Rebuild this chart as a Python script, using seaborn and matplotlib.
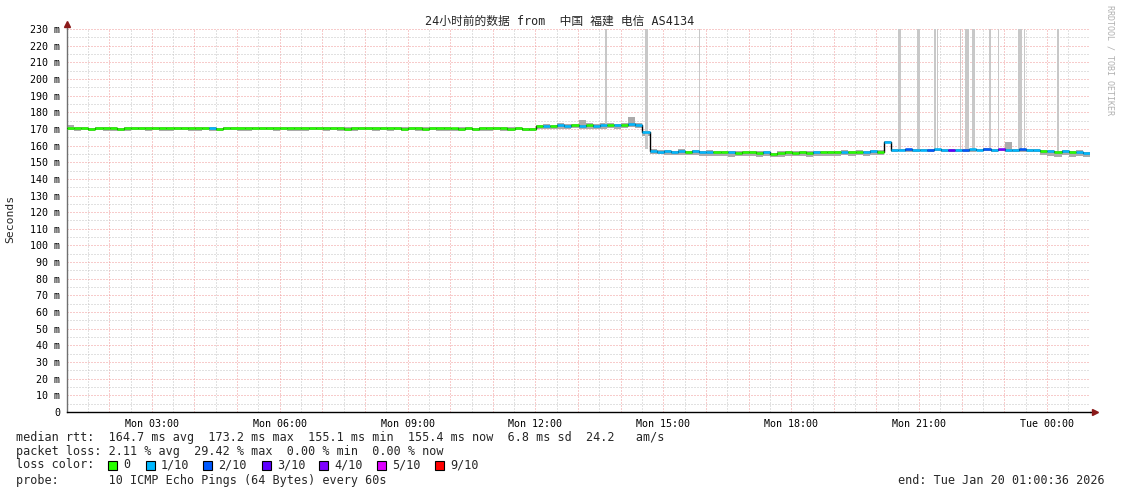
import numpy as np
import pandas as pd
import matplotlib
matplotlib.use("Agg")
import matplotlib.pyplot as plt
import seaborn as sns
from matplotlib.patches import Rectangle
from matplotlib.ticker import MultipleLocator, FuncFormatter

# ---------------- data ----------------
TITLE = "24小时前的数据 from  中国 福建 电信 AS4134"
START_H = 1 + 36 / 3600.0      # Mon 01:00:36 (hours since Mon 00:00)
STEP_MIN = 10                  # one sample every 10 minutes

MEDIAN = [
    170.5, 170.3, 170.4, 170.2, 170.6, 170.3,   # 01
    170.4, 170.2, 170.5, 170.6, 170.3, 170.4,   # 02
    170.6, 170.4, 170.3, 170.5, 170.7, 170.4,   # 03
    170.3, 170.5, 170.4, 170.2, 170.4, 170.6,   # 04
    170.5, 170.3, 170.4, 170.6, 170.3, 170.4,   # 05
    170.4, 170.5, 170.3, 170.4, 170.6, 170.5,   # 06
    170.3, 170.4, 170.5, 170.2, 170.4, 170.3,   # 07
    170.5, 170.6, 170.4, 170.3, 170.5, 170.2,   # 08
    170.4, 170.3, 170.2, 170.5, 170.3, 170.4,   # 09
    170.3, 170.2, 170.4, 170.1, 170.3, 170.5,   # 10
    170.6, 170.4, 170.2, 170.5, 170.1, 170.0,   # 11
    171.6, 172.0, 171.7, 172.1, 171.8, 172.2,   # 12
    172.0, 172.3, 171.9, 172.2, 172.4, 172.1,   # 13
    172.3, 173.2, 172.6, 168.0, 156.9, 156.4,   # 14
    156.6, 156.3, 156.7, 156.2, 156.5, 156.1,   # 15
    156.4, 155.9, 156.2, 156.0, 155.8, 156.1,   # 16
    155.9, 155.7, 156.0, 155.1, 155.6, 155.9,   # 17
    155.8, 156.0, 155.7, 156.1, 155.9, 156.2,   # 18
    156.0, 156.3, 156.1, 156.4, 156.2, 156.5,   # 19
    156.3, 162.0, 157.6, 157.5, 157.7, 157.4,   # 20
    157.6, 157.5, 157.7, 157.6, 157.4, 157.6,   # 21
    157.5, 157.7, 157.6, 157.8, 157.5, 157.7,   # 22
    157.6, 157.5, 157.7, 157.4, 157.6, 156.8,   # 23
    156.5, 156.2, 156.6, 156.1, 156.4, 155.4,   # 00
]

LOSS = [
    0, 0, 0, 0, 0, 0,
    0, 0, 0, 0, 0, 0,
    0, 0, 0, 0, 0, 0,
    0, 0, 1, 0, 0, 0,
    0, 0, 0, 0, 0, 0,
    0, 0, 0, 0, 0, 0,
    0, 0, 0, 0, 0, 0,
    0, 0, 0, 0, 0, 0,
    0, 0, 0, 0, 0, 0,
    0, 0, 0, 0, 0, 0,
    0, 0, 0, 0, 0, 0,
    0, 1, 0, 1, 1, 0,
    1, 0, 1, 1, 0, 1,
    0, 1, 1, 1, 1, 1,
    1, 1, 1, 0, 1, 1,
    1, 0, 0, 1, 0, 0,
    0, 0, 1, 0, 0, 0,
    0, 0, 0, 1, 0, 0,
    0, 1, 0, 0, 1, 1,
    0, 1, 1, 1, 2, 1,
    1, 2, 1, 1, 3, 1,
    2, 1, 1, 2, 1, 4,
    1, 1, 2, 1, 1, 0,
    1, 0, 1, 0, 1, 1,
]

SMOKE_DN = [
    1.4, 1.6, 1.2, 1.5, 1.3, 1.7,
    1.5, 1.3, 1.6, 1.4, 1.2, 1.5,
    1.3, 1.6, 1.4, 1.2, 1.5, 1.6,
    1.4, 1.2, 1.5, 1.7, 1.3, 1.4,
    1.6, 1.4, 1.3, 1.5, 1.2, 1.6,
    1.3, 1.5, 1.4, 1.6, 1.2, 1.4,
    1.5, 1.3, 1.6, 1.4, 1.5, 1.2,
    1.4, 1.6, 1.3, 1.5, 1.4, 1.3,
    1.2, 1.5, 1.4, 1.3, 1.6, 1.4,
    1.5, 1.3, 1.2, 1.6, 1.4, 1.5,
    1.3, 1.4, 1.6, 1.2, 1.5, 1.4,
    1.6, 2.0, 1.8, 2.2, 1.7, 1.9,
    1.8, 2.1, 1.7, 2.0, 1.9, 2.2,
    2.0, 2.2, 1.8, 2.5, 1.8, 1.6,
    2.2, 1.9, 2.4, 2.0, 2.3, 2.1,
    2.4, 2.0, 2.2, 2.6, 2.1, 2.3,
    2.2, 2.5, 2.0, 1.8, 2.3, 2.4,
    2.1, 2.3, 2.6, 2.2, 2.0, 2.4,
    2.3, 2.1, 2.4, 2.2, 2.5, 2.0,
    2.2, 0.6, 1.2, 1.0, 1.3, 1.1,
    1.0, 1.2, 1.1, 1.3, 1.0, 1.2,
    1.1, 1.3, 1.0, 1.2, 1.1, 1.0,
    1.2, 1.1, 1.3, 1.0, 1.2, 2.4,
    2.6, 2.9, 2.4, 3.0, 2.7, 2.5,
]

SMOKE_UP = [
    1.8, 0.6, 0.7, 0.5, 0.8, 0.6,
    0.7, 0.5, 0.6, 0.8, 0.6, 0.7,
    0.5, 0.7, 0.6, 0.8, 0.5, 0.6,
    0.6, 0.8, 0.7, 0.5, 0.6, 0.7,
    0.8, 0.6, 0.5, 0.7, 0.6, 0.8,
    0.6, 0.7, 0.8, 0.5, 0.6, 0.7,
    0.7, 0.5, 0.6, 0.8, 0.7, 0.6,
    0.6, 0.8, 0.5, 0.7, 0.6, 0.8,
    0.7, 0.6, 0.8, 0.5, 0.7, 0.6,
    0.5, 0.7, 0.6, 0.7, 0.8, 0.6,
    0.8, 0.6, 0.7, 0.5, 0.6, 0.7,
    1.0, 1.2, 0.9, 1.3, 1.1, 1.0,
    3.2, 1.1, 1.0, 1.2, 1.3, 0.9,
    1.1, 4.0, 1.2, 1.0, 0.9, 0.8,
    0.9, 0.7, 1.0, 0.8, 0.6, 0.9,
    0.8, 1.0, 0.7, 0.9, 0.8, 0.6,
    0.7, 0.9, 0.8, 0.6, 1.0, 0.7,
    0.9, 0.6, 0.8, 0.7, 0.9, 0.8,
    0.7, 0.8, 0.6, 0.9, 0.7, 0.8,
    0.8, 0.5, 0.4, 0.5, 0.3, 0.5,
    0.4, 0.5, 0.3, 0.4, 0.5, 0.4,
    0.5, 0.3, 0.4, 0.5, 0.4, 0.3,
    4.5, 0.4, 0.5, 0.3, 0.4, 0.7,
    0.8, 0.6, 0.9, 0.7, 0.8, 0.9,
]

# full-height smoke spikes (time in hours, width in minutes, base in ms)
SPIKE_T = [13.655, 14.605, 15.849, 20.541, 20.998, 21.374, 21.432, 21.983,
           22.124, 22.277, 22.664, 22.875, 23.368, 23.485, 24.259]
SPIKE_W_MIN = [2.8, 4.2, 1.6, 4.2, 4.2, 2.5, 2.5, 1.4,
               5.6, 4.2, 2.8, 1.4, 5.6, 1.4, 2.8]
SPIKE_BASE = [172.5, 158.0, 157.0, 158.0, 158.0, 158.0, 158.0, 158.0,
              158.0, 158.0, 158.0, 158.0, 158.0, 158.0, 157.0]

X_TICKS = [3, 6, 9, 12, 15, 18, 21, 24]
X_LABELS = ["Mon 03:00", "Mon 06:00", "Mon 09:00", "Mon 12:00",
            "Mon 15:00", "Mon 18:00", "Mon 21:00", "Tue 00:00"]

LOSS_KEYS = [0, 1, 2, 3, 4, 5, 9]
LOSS_LABELS = ["0", "1/10", "2/10", "3/10", "4/10", "5/10", "9/10"]
LOSS_COLORS = ["#26ff00", "#00b8ff", "#0059ff", "#5e00ff", "#7e00ff", "#dd00ff", "#ff0000"]

STAT_RTT = "median rtt:  164.7 ms avg  173.2 ms max  155.1 ms min  155.4 ms now  6.8 ms sd  24.2   am/s"
STAT_LOSS = "packet loss: 2.11 % avg  29.42 % max  0.00 % min  0.00 % now"
STAT_COLOR = "loss color:"
STAT_PROBE = "probe:       10 ICMP Echo Pings (64 Bytes) every 60s"
STAT_END = "end: Tue Jan 20 01:00:36 2026"
WATERMARK = "RRDTOOL / TOBI OETIKER"

# ---------------- drawing ----------------
W, H = 1121, 494
sns.set_theme(style="white")
plt.rcParams["font.family"] = ["DejaVu Sans Mono", "Noto Sans CJK SC"]

MONO = ["DejaVu Sans Mono", "Noto Sans CJK SC"]

fig = plt.figure(figsize=(W / 100, H / 100), dpi=100)
fig.patch.set_facecolor("white")

def fx(x):
    return x / W

def fy(y):
    return 1 - y / H

ax = fig.add_axes([fx(67), fy(412), 1023 / W, 383 / H])
ax.set_facecolor("white")

median = np.array(MEDIAN)
t = START_H + np.arange(len(median)) * STEP_MIN / 60.0
t_end = t + STEP_MIN / 60.0
lo = median - np.array(SMOKE_DN)
hi = median + np.array(SMOKE_UP)

# smoke
ax.fill_between(np.r_[t, t_end[-1]], np.r_[lo, lo[-1]], np.r_[hi, hi[-1]],
                step="post", color="#ababab", lw=0, zorder=2)
# full-height smoke spikes
ax.bar(SPIKE_T, 230 - np.array(SPIKE_BASE), bottom=SPIKE_BASE,
       width=np.array(SPIKE_W_MIN) / 60.0, color="#c8c8c8", lw=0, zorder=2)

# median line (black step) + loss coloured segments
df = pd.DataFrame({"t": np.r_[t, t_end[-1]], "rtt": np.r_[median, median[-1]]})
sns.lineplot(data=df, x="t", y="rtt", drawstyle="steps-post", color="black",
             lw=1.0, ax=ax, zorder=3)
cmap = dict(zip(LOSS_KEYS, LOSS_COLORS))
ax.hlines(median, t, t_end, colors=[cmap[l] for l in LOSS], lw=1.8, zorder=4)

ax.set_xlim(START_H, START_H + 24)
ax.set_ylim(0, 230)
ax.set_xlabel("")
ax.set_ylabel("")

# grid
ax.xaxis.set_major_locator(MultipleLocator(1))
ax.xaxis.set_minor_locator(MultipleLocator(0.5))
ax.yaxis.set_major_locator(MultipleLocator(10))
ax.yaxis.set_minor_locator(MultipleLocator(5))
lab = dict(zip(X_TICKS, X_LABELS))
ax.xaxis.set_major_formatter(FuncFormatter(lambda v, p: lab.get(int(round(v)), "")))
ax.yaxis.set_major_formatter(FuncFormatter(lambda v, p: "0" if v == 0 else f"{int(v)} m"))
ax.set_axisbelow(True)
ax.grid(which="major", color="#f09898", ls=(0, (1, 2)), lw=0.72)
ax.grid(which="minor", color="#c4c4c4", ls=(0, (1, 2)), lw=0.72)

ax.tick_params(axis="x", which="major", length=2.5, width=0.8, color="#f2a0a0",
               pad=2.5, labelsize=7.2, labelcolor="black")
ax.tick_params(axis="x", which="minor", length=2, width=0.8, color="#cccccc")
ax.tick_params(axis="y", which="both", length=0, pad=5, labelsize=7.2, labelcolor="black")
for lbl in ax.get_xticklabels() + ax.get_yticklabels():
    lbl.set_family(MONO)

for s in ["top", "right"]:
    ax.spines[s].set_visible(False)
ax.spines["left"].set_color("#707070")
ax.spines["left"].set_linewidth(1.0)
ax.spines["bottom"].set_color("black")
ax.spines["bottom"].set_linewidth(1.0)

# axis arrows
ax.plot([0, 0], [1, 1.012], transform=ax.transAxes, color="#707070", lw=1, clip_on=False)
ax.plot([0], [1.014], marker="^", color="#8b1a1a", ms=4, transform=ax.transAxes, clip_on=False)
ax.plot([1, 1.003], [0, 0], transform=ax.transAxes, color="black", lw=1, clip_on=False)
ax.plot([1.005], [0], marker=">", color="#8b1a1a", ms=4, transform=ax.transAxes, clip_on=False)

# texts
fig.text(fx(560), fy(21), TITLE, ha="center", va="center", fontsize=8.5, family=MONO)
fig.text(fx(10), fy(219), "Seconds", rotation=90, ha="center", va="center",
         fontsize=8.2, family=MONO)
fig.text(fx(1110), fy(60), WATERMARK, rotation=270, ha="center", va="center",
         fontsize=6.0, color="#b0b0b0", family=MONO)

fs = 8.5
fig.text(fx(16), fy(437), STAT_RTT, ha="left", va="center", fontsize=fs, family=MONO)
fig.text(fx(16), fy(451), STAT_LOSS, ha="left", va="center", fontsize=fs, family=MONO)
fig.text(fx(16), fy(465), STAT_COLOR, ha="left", va="center", fontsize=fs, family=MONO)
fig.text(fx(16), fy(480), STAT_PROBE, ha="left", va="center", fontsize=fs, family=MONO)
fig.text(fx(1105), fy(480), STAT_END, ha="right", va="center", fontsize=fs, family=MONO)

sq_x = [108, 146, 203, 262, 319, 377, 435]
for x0, col, labtxt in zip(sq_x, LOSS_COLORS, LOSS_LABELS):
    fig.add_artist(Rectangle((fx(x0), fy(469.5)), 8.5 / W, 8.5 / H,
                             transform=fig.transFigure, facecolor=col,
                             edgecolor="black", lw=0.8))
    fig.text(fx(x0 + 15), fy(465), labtxt, ha="left", va="center", fontsize=fs, family=MONO)

fig.savefig("out.png", dpi=100, facecolor="white")
